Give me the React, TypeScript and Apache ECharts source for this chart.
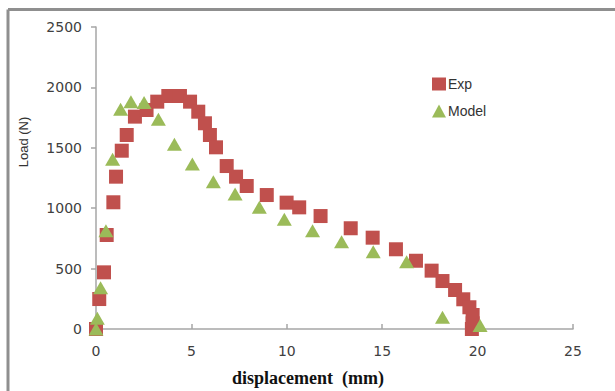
import React, { useEffect, useRef } from "react";
import * as echarts from "echarts";

const expX = [0, 0.17, 0.42, 0.56, 0.91, 1.05, 1.35, 1.61, 2.04, 2.65, 3.21, 3.79, 4.4, 4.93, 5.36, 5.71, 5.97, 6.29, 6.85, 7.34, 7.9, 8.95, 9.99, 10.65, 11.77, 13.35, 14.5, 15.72, 16.77, 17.59, 18.16, 18.82, 19.25, 19.57, 19.74, 19.74, 19.7];
const expY = [0, 248, 469, 778, 1049, 1261, 1476, 1606, 1758, 1813, 1882, 1929, 1929, 1882, 1799, 1703, 1606, 1504, 1349, 1261, 1184, 1109, 1046, 1007, 935, 834, 756, 660, 565, 483, 397, 323, 246, 180, 116, 47, 0];

const modelX = [0, 0.07, 0.24, 0.52, 0.87, 1.29, 1.83, 2.52, 3.27, 4.11, 5.05, 6.15, 7.29, 8.56, 9.87, 11.35, 12.87, 14.53, 16.28, 18.16, 20.13];
const modelY = [0, 88, 342, 814, 1405, 1819, 1882, 1874, 1736, 1529, 1366, 1219, 1118, 1007, 908, 814, 723, 640, 557, 97, 30];

const seriesNames = ["Exp", "Model"];
const xTitle = "displacement  (mm)";
const yTitle = "Load (N)";

export default function App() {
  const ref = useRef<HTMLDivElement>(null);
  useEffect(() => {
    if (!ref.current) return;
    const chart = echarts.init(ref.current, null, { renderer: "svg" });
    const axisColor = "#a6a6a6";
    const labelFont = { fontFamily: "DejaVu Sans", fontSize: 14, color: "#404040" };
    chart.setOption({
      animation: false,
      backgroundColor: "#ffffff",
      grid: { left: 96, right: 42, top: 27, bottom: 62, containLabel: false },
      xAxis: {
        type: "value",
        min: 0,
        max: 25,
        interval: 5,
        splitLine: { show: false },
        axisLine: { show: true, lineStyle: { color: axisColor, width: 1.5 } },
        axisTick: { show: true, inside: true, length: 5, lineStyle: { color: axisColor, width: 1.5 } },
        axisLabel: { ...labelFont, margin: 15, formatter: (v: number) => String(v) },
      },
      yAxis: {
        type: "value",
        min: 0,
        max: 2500,
        interval: 500,
        splitLine: { show: false },
        axisLine: { show: true, lineStyle: { color: axisColor, width: 1.5 } },
        axisTick: { show: true, inside: false, length: 5, lineStyle: { color: axisColor, width: 1.5 } },
        axisLabel: { ...labelFont, margin: 14, formatter: (v: number) => String(v) },
      },
      legend: {
        orient: "vertical",
        left: 427,
        top: 72,
        itemWidth: 14,
        itemHeight: 13,
        itemGap: 13,
        data: [
          { name: seriesNames[0], icon: "rect" },
          { name: seriesNames[1], icon: "triangle" },
        ],
        textStyle: { fontFamily: "Liberation Sans", fontSize: 14, color: "#333333", padding: [0, 0, 0, -3] },
      },
      graphic: [
        {
          type: "line",
          shape: { x1: 8, y1: 9.5, x2: 615, y2: 9.5 },
          style: { stroke: "#8f8f8f", lineWidth: 3 },
        },
        {
          type: "line",
          shape: { x1: 8, y1: 9.5, x2: 8, y2: 391 },
          style: { stroke: "#8f8f8f", lineWidth: 3 },
        },
        {
          type: "text",
          x: 23,
          y: 142,
          rotation: Math.PI / 2,
          style: {
            text: yTitle,
            fontFamily: "Liberation Sans",
            fontSize: 13,
            fill: "#333333",
            align: "center",
            verticalAlign: "middle",
          },
        },
        {
          type: "text",
          x: 308,
          y: 378,
          style: {
            text: xTitle,
            fontFamily: "Liberation Serif",
            fontWeight: "bold",
            fontSize: 18,
            fill: "#111111",
            align: "center",
            verticalAlign: "middle",
          },
        },
      ],
      series: [
        {
          name: seriesNames[0],
          type: "scatter",
          symbol: "rect",
          symbolSize: 14,
          itemStyle: { color: "#c0504d", opacity: 1 },
          data: expX.map((x, i) => [x, expY[i]]),
        },
        {
          name: seriesNames[1],
          type: "scatter",
          symbol: "triangle",
          symbolSize: [15, 13],
          itemStyle: { color: "#9bbb59", opacity: 1 },
          data: modelX.map((x, i) => [x, modelY[i]]),
        },
      ],
    });
    return () => chart.dispose();
  }, []);
  return (
    <div
      ref={ref}
      style={{ position: "fixed", left: 0, top: 0, width: 615, height: 391 }}
    />
  );
}
